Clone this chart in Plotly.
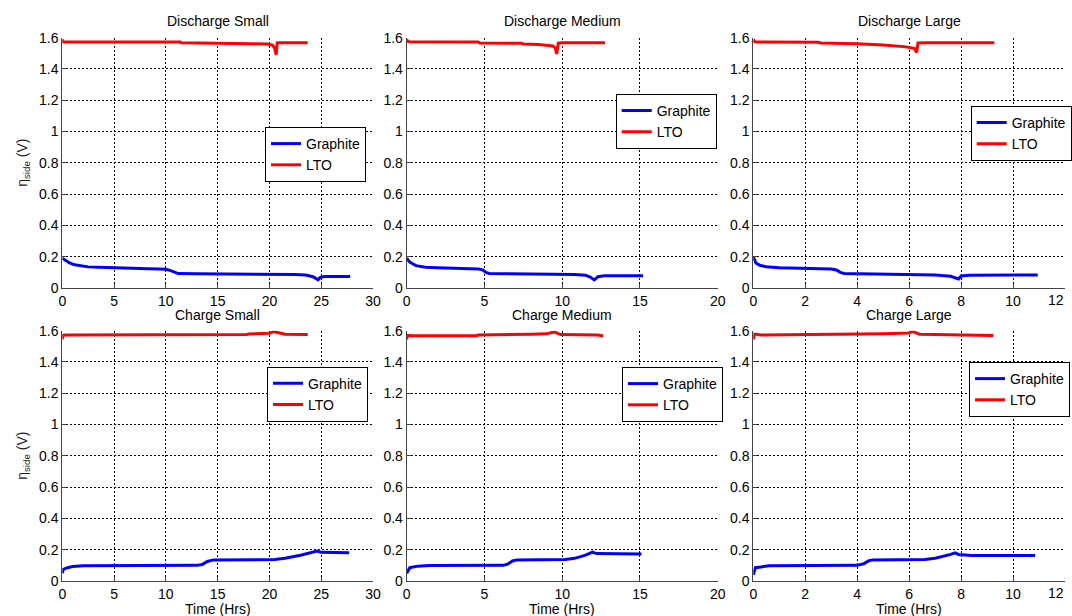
import plotly.graph_objects as go

# ---------------- data ----------------
titles = ["Discharge Small", "Discharge Medium", "Discharge Large",
          "Charge Small", "Charge Medium", "Charge Large"]
x_max = [30, 20, 12, 30, 20, 12]
x_dtick = [5, 5, 2, 5, 5, 2]
y_ticks = [0, 0.2, 0.4, 0.6, 0.8, 1.0, 1.2, 1.4, 1.6]

# Discharge Small
ds_g_t = [0, 0.3, 0.7, 1.2, 1.8, 2.5, 3.5, 5, 6, 7, 8, 9, 10, 10.4, 10.8, 11.2, 13, 15, 18, 20, 22, 22.5, 23.5, 24.2, 24.7, 24.9, 25.3, 26, 27.8]
ds_g_v = [0.19, 0.175, 0.16, 0.148, 0.14, 0.135, 0.132, 0.13, 0.128, 0.127, 0.126, 0.124, 0.12, 0.113, 0.1, 0.092, 0.091, 0.09, 0.09, 0.09, 0.089, 0.086, 0.083, 0.072, 0.052, 0.068, 0.074, 0.074, 0.073]
ds_l_t = [0, 0.05, 0.2, 5, 10, 11.4, 11.5, 15, 18.2, 18.3, 19.8, 20.3, 20.5, 20.65, 20.75, 21, 23.7]
ds_l_v = [1.59, 1.575, 1.573, 1.573, 1.573, 1.572, 1.567, 1.566, 1.566, 1.562, 1.56, 1.552, 1.535, 1.492, 1.566, 1.567, 1.567]

# Discharge Medium
dm_g_t = [0, 0.2, 0.6, 1.2, 2, 3, 4, 4.6, 4.9, 5.1, 5.3, 7, 10, 10.8, 11.5, 11.8, 12.06, 12.3, 12.7, 15.2]
dm_g_v = [0.19, 0.165, 0.143, 0.132, 0.13, 0.127, 0.125, 0.122, 0.115, 0.1, 0.093, 0.092, 0.091, 0.087, 0.082, 0.07, 0.052, 0.072, 0.078, 0.078]
dm_l_t = [0, 0.05, 0.2, 4.6, 4.7, 7.4, 7.5, 8.5, 9.4, 9.55, 9.65, 9.75, 10, 12.75]
dm_l_v = [1.59, 1.576, 1.574, 1.573, 1.566, 1.565, 1.559, 1.556, 1.547, 1.535, 1.496, 1.565, 1.567, 1.567]

# Discharge Large
dl_g_t = [0, 0.1, 0.25, 0.5, 1, 2, 3, 3.2, 3.35, 3.5, 5, 6, 7, 7.6, 7.9, 8.0, 8.3, 10.95]
dl_g_v = [0.2, 0.16, 0.145, 0.136, 0.13, 0.126, 0.122, 0.115, 0.1, 0.093, 0.09, 0.088, 0.083, 0.075, 0.058, 0.077, 0.082, 0.083]
dl_l_t = [0, 0.05, 0.2, 2.5, 2.6, 4.0, 5, 5.8, 6.2, 6.29, 6.34, 6.6, 9.28]
dl_l_v = [1.59, 1.574, 1.572, 1.571, 1.566, 1.562, 1.553, 1.543, 1.532, 1.506, 1.566, 1.568, 1.568]

# Charge Small
cs_g_t = [0, 0.1, 0.5, 1, 2, 13, 13.5, 14, 14.6, 20.5, 21.5, 23, 24.6, 25, 27.7]
cs_g_v = [0.05, 0.075, 0.085, 0.092, 0.097, 0.1, 0.105, 0.125, 0.135, 0.137, 0.145, 0.165, 0.192, 0.183, 0.181]
cs_l_t = [0, 0.05, 0.3, 11.8, 11.9, 17.8, 18, 20, 20.4, 20.8, 21.5, 23.7]
cs_l_v = [1.545, 1.57, 1.572, 1.572, 1.575, 1.576, 1.579, 1.583, 1.595, 1.59, 1.577, 1.575]

# Charge Medium
cm_g_t = [0, 0.2, 0.7, 1.5, 6.2, 6.5, 6.8, 7.1, 10.2, 10.8, 11.5, 11.95, 12.2, 15.1]
cm_g_v = [0.05, 0.085, 0.095, 0.099, 0.1, 0.108, 0.128, 0.135, 0.137, 0.145, 0.165, 0.185, 0.175, 0.173]
cm_l_t = [0, 0.05, 0.3, 4.5, 4.6, 7.9, 8.0, 9.0, 9.45, 9.6, 9.9, 12.3, 12.64]
cm_l_v = [1.545, 1.57, 1.568, 1.568, 1.573, 1.574, 1.578, 1.58, 1.592, 1.588, 1.575, 1.572, 1.566]

# Charge Large
cl_g_t = [0, 0.08, 0.3, 0.6, 4.0, 4.25, 4.45, 4.6, 6.6, 7.0, 7.6, 7.77, 7.9, 8.3, 8.4, 10.85]
cl_g_v = [0.04, 0.085, 0.09, 0.097, 0.1, 0.11, 0.13, 0.135, 0.137, 0.145, 0.17, 0.18, 0.17, 0.168, 0.163, 0.163]
cl_l_t = [0, 0.05, 0.3, 2.5, 4.5, 5.0, 6.0, 6.1, 6.4, 7.8, 7.9, 9.24]
cl_l_v = [1.545, 1.578, 1.572, 1.575, 1.577, 1.58, 1.585, 1.597, 1.578, 1.575, 1.57, 1.57]

graphite = [(ds_g_t, ds_g_v), (dm_g_t, dm_g_v), (dl_g_t, dl_g_v),
            (cs_g_t, cs_g_v), (cm_g_t, cm_g_v), (cl_g_t, cl_g_v)]
lto = [(ds_l_t, ds_l_v), (dm_l_t, dm_l_v), (dl_l_t, dl_l_v),
       (cs_l_t, cs_l_v), (cm_l_t, cm_l_v), (cl_l_t, cl_l_v)]

# ---------------- layout geometry (pixels in a 1072x616 page) ----------------
W, H = 1072, 616
col_px = [(62.3, 373.0), (406.7, 717.7), (753.3, 1065.0)]
row_px = [(37.7, 288.0), (330.7, 581.0)]
legend_px = [(265, 127), (615.7, 94), (970.7, 106),
             (267, 366.7), (622, 367), (969, 362)]

FONT = "Liberation Sans, Arial, sans-serif"

fig = go.Figure()
layout = dict(
    width=W, height=H,
    margin=dict(l=0, r=0, t=0, b=0, pad=0, autoexpand=False),
    paper_bgcolor="white", plot_bgcolor="white",
    font=dict(family=FONT, size=14, color="black"),
    annotations=[],
)

for i in range(6):
    r, c = divmod(i, 3)
    n = "" if i == 0 else str(i + 1)
    x0, x1 = col_px[c]
    y0, y1 = row_px[r]
    leg = "legend" + n
    fig.add_trace(go.Scatter(x=graphite[i][0], y=graphite[i][1], mode="lines",
                             name="Graphite", line=dict(color="#0000FF", width=3),
                             xaxis="x" + n, yaxis="y" + n, legend=leg))
    fig.add_trace(go.Scatter(x=lto[i][0], y=lto[i][1], mode="lines",
                             name="LTO", line=dict(color="#FF0000", width=3),
                             xaxis="x" + n, yaxis="y" + n, legend=leg))
    common = dict(showgrid=True, gridcolor="black", griddash="2px,2px", gridwidth=1,
                  zeroline=False, showline=True, linecolor="#444", linewidth=1,
                  ticks="inside", ticklen=4, tickcolor="#444", automargin=False,
                  ticklabeloverflow="allow",
                  tickfont=dict(family=FONT, size=14, color="black"))
    xt = list(range(0, x_max[i] + 1, x_dtick[i]))
    # the last label of the rightmost column runs off the page: draw it as a note
    last_as_note = (c == 2)
    xtext = [str(v) for v in xt]
    if last_as_note:
        xtext[-1] = ""
    layout["xaxis" + n] = dict(domain=[x0 / W, x1 / W], range=[0, x_max[i]],
                               tickvals=xt, ticktext=xtext, anchor="y" + n, **common)
    layout["yaxis" + n] = dict(domain=[1 - y1 / H, 1 - y0 / H], range=[0, 1.6],
                               tickvals=y_ticks, anchor="x" + n, **common)
    if last_as_note:
        layout["annotations"].append(dict(
            text=str(xt[-1]), x=1066 / W, xref="paper", y=1 - (y1 + 2) / H, yref="paper",
            showarrow=False, xanchor="right", yanchor="top",
            font=dict(family=FONT, size=14, color="black")))
    lx, ly = legend_px[i]
    layout[leg] = dict(x=lx / W, y=1 - ly / H, xanchor="left", yanchor="top",
                       bgcolor="white", bordercolor="black", borderwidth=1,
                       font=dict(family=FONT, size=14, color="black"),
                       tracegroupgap=0, itemwidth=30)
    title_y = 21 if r == 0 else 315
    layout["annotations"].append(dict(
        text=titles[i], x=(x0 + x1) / 2 / W, y=1 - title_y / H, xref="paper", yref="paper",
        showarrow=False, xanchor="center", yanchor="middle",
        font=dict(family=FONT, size=14, color="black")))
    if c == 0:
        layout["annotations"].append(dict(
            text="η<sub>side</sub> (V)", x=23 / W, y=1 - (y0 + y1) / 2 / H,
            xref="paper", yref="paper", showarrow=False, textangle=-90,
            xanchor="center", yanchor="middle",
            font=dict(family=FONT, size=14, color="#222")))
    if r == 1:
        layout["annotations"].append(dict(
            text="Time (Hrs)", x=(x0 + x1) / 2 / W, y=1 - 609 / H,
            xref="paper", yref="paper", showarrow=False,
            xanchor="center", yanchor="middle",
            font=dict(family=FONT, size=14, color="black")))

fig.update_layout(**layout)
fig.write_html("out.html")
